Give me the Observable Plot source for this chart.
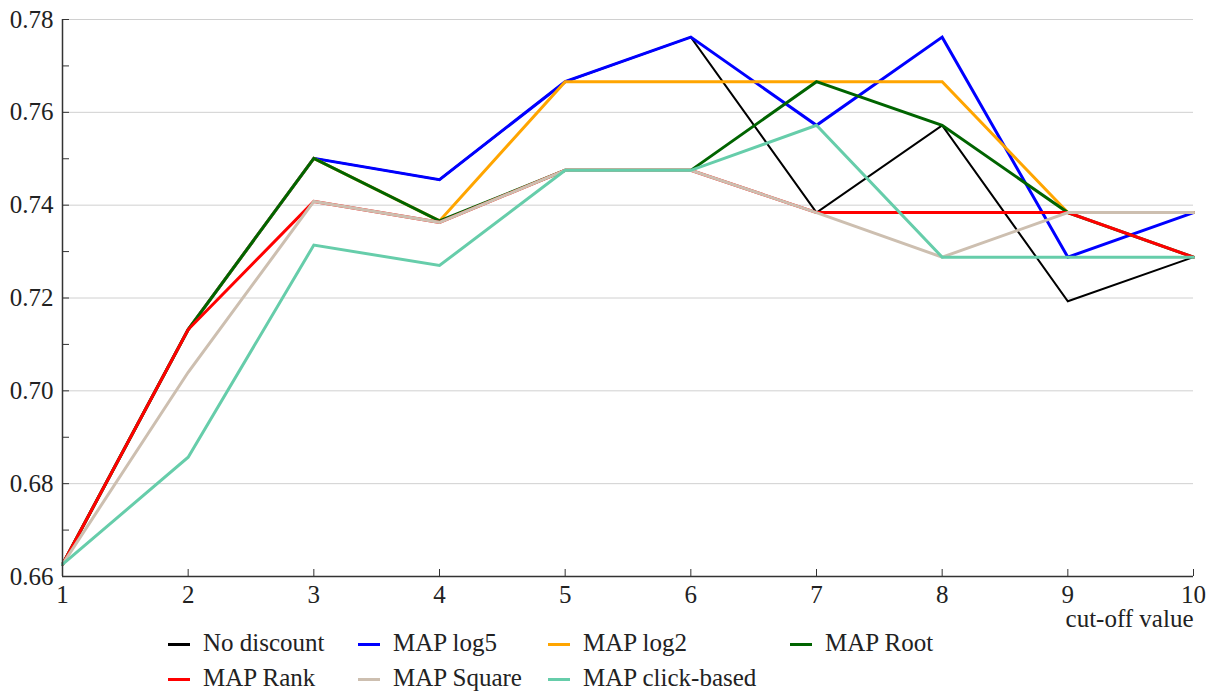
<!DOCTYPE html>
<html>
<head>
<meta charset="utf-8">
<script src="https://cdn.jsdelivr.net/npm/d3@7"></script>
<script src="https://cdn.jsdelivr.net/npm/@observablehq/plot@0.6"></script>
<style>
  html, body { margin: 0; padding: 0; background: #fff; }
  body { width: 1218px; height: 693px; overflow: hidden; font-family: "Liberation Serif", "Times New Roman", Times, "DejaVu Serif", "Noto Serif", serif; color: #222; }
  #chart svg { display: block; }
  #chart svg text { font-family: "Liberation Serif", "Times New Roman", Times, "DejaVu Serif", "Noto Serif", serif; }
  #legend {
    display: grid;
    grid-template-columns: 190px 190px 242px auto;
    row-gap: 5px;
    margin-left: 168px;
    margin-top: -12px;
    font-size: 25px;
    line-height: 30px;
    position: relative;
  }
  .item { display: flex; align-items: center; white-space: nowrap; }
  .sw { width: 22px; height: 3px; margin-right: 13px; margin-top: 2px; }
</style>
</head>
<body>
<div id="chart"></div>
<div id="legend"></div>
<script>
const cutoffs = [1, 2, 3, 4, 5, 6, 7, 8, 9, 10];

const noDiscount = [0.6626, 0.7132, 0.7501, 0.7455, 0.7666, 0.7762, 0.7384, 0.7572, 0.7193, 0.7288];
const mapLog5    = [0.6626, 0.7132, 0.7501, 0.7455, 0.7666, 0.7762, 0.7572, 0.7762, 0.7288, 0.7384];
const mapLog2    = [0.6626, 0.7132, 0.7501, 0.7366, 0.7666, 0.7666, 0.7666, 0.7666, 0.7384, 0.7384];
const mapRoot    = [0.6626, 0.7132, 0.7501, 0.7366, 0.7475, 0.7475, 0.7666, 0.7572, 0.7384, 0.7288];
const mapRank    = [0.6626, 0.7132, 0.7408, 0.7363, 0.7475, 0.7475, 0.7384, 0.7384, 0.7384, 0.7288];
const mapSquare  = [0.6626, 0.7040, 0.7408, 0.7363, 0.7475, 0.7475, 0.7384, 0.7288, 0.7384, 0.7384];
const mapClick   = [0.6626, 0.6857, 0.7314, 0.7270, 0.7475, 0.7475, 0.7572, 0.7288, 0.7288, 0.7288];

const seriesNames  = ["No discount", "MAP log5", "MAP log2", "MAP Root", "MAP Rank", "MAP Square", "MAP click-based"];
const seriesValues = [noDiscount, mapLog5, mapLog2, mapRoot, mapRank, mapSquare, mapClick];
const seriesColors = ["#000000", "#0000ff", "#ffa500", "#006400", "#ff0000", "#cdbfb0", "#66cdaa"];
const seriesWidths = [2, 3, 3, 3, 3, 3, 3];

const yMajorTicks = [0.66, 0.68, 0.70, 0.72, 0.74, 0.76, 0.78];
const yMinorTicks = [0.67, 0.69, 0.71, 0.73, 0.75, 0.77];
const xLabel = "cut-off value";

const font = '"Liberation Serif", "Times New Roman", Times, "DejaVu Serif", "Noto Serif", serif';

const lineMarks = seriesNames.map((name, i) =>
  Plot.line(cutoffs.map((c, j) => ({x: c, y: seriesValues[i][j]})), {
    x: "x", y: "y", stroke: seriesColors[i], strokeWidth: seriesWidths[i], strokeLinejoin: "miter", strokeMiterlimit: 4
  })
);

const chart = Plot.plot({
  width: 1218,
  height: 640,
  marginTop: 19,
  marginBottom: 64,
  marginLeft: 62,
  marginRight: 25,
  style: {fontFamily: font, fontSize: "25px", color: "#222", background: "transparent"},
  x: {domain: [1, 10]},
  y: {domain: [0.66, 0.78]},
  marks: [
    Plot.gridY(yMajorTicks, {stroke: "#d0d0d0", strokeOpacity: 1, strokeWidth: 1}),
    ...lineMarks,
    Plot.ruleX([1], {stroke: "#333", strokeWidth: 1.5}),
    Plot.ruleY([0.66], {stroke: "#333", strokeWidth: 1.5}),
    Plot.axisY(yMajorTicks.concat(yMinorTicks), {tickSize: 7, dx: 7, text: null, label: null, stroke: "#333"}),
    Plot.axisY(yMajorTicks, {tickSize: 0, tickPadding: 9, tickFormat: d3.format(".2f"), label: null, fontSize: 25, fill: "#222"}),
    Plot.axisX(cutoffs, {tickSize: 7, dy: -7, text: null, label: null, stroke: "#333"}),
    Plot.axisX(cutoffs, {tickSize: 0, tickPadding: 9, tickFormat: d3.format("d"), label: null, fontSize: 25, fill: "#222"}),
    Plot.text([xLabel], {frameAnchor: "bottom-right", text: d => d, textAnchor: "end", dy: 50, fontSize: 25, fill: "#222"})
  ]
});
document.getElementById("chart").appendChild(chart);

const legend = document.getElementById("legend");
seriesNames.forEach((name, i) => {
  const item = document.createElement("div");
  item.className = "item";
  const sw = document.createElement("span");
  sw.className = "sw";
  sw.style.background = seriesColors[i];
  const t = document.createElement("span");
  t.textContent = name;
  item.appendChild(sw);
  item.appendChild(t);
  legend.appendChild(item);
});
</script>
</body>
</html>
